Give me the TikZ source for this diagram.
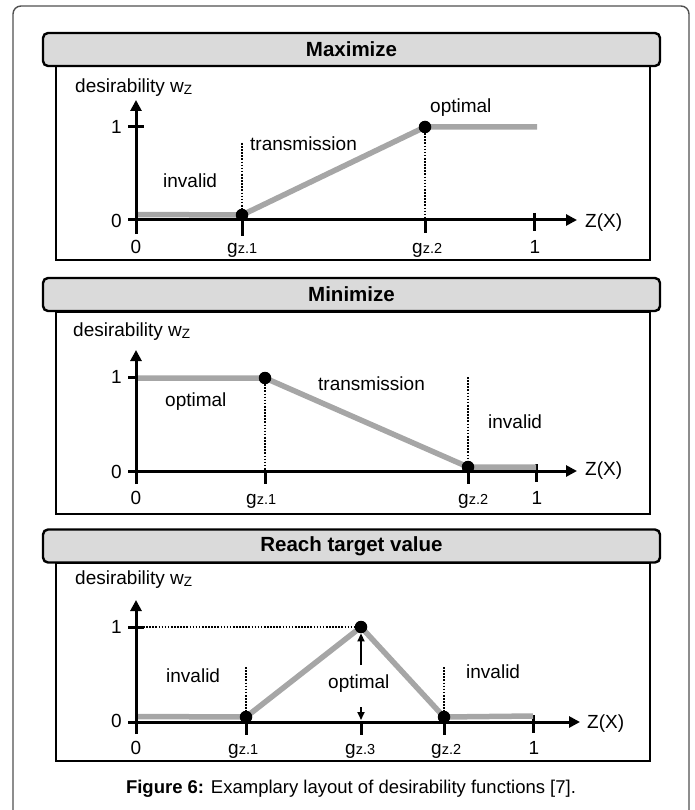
\documentclass[tikz,border=0pt]{standalone}
\usepackage{fontspec}
\setmainfont{Liberation Sans}
\usetikzlibrary{arrows.meta}
\definecolor{hdr}{RGB}{218,218,218}
\definecolor{crv}{RGB}{166,166,166}
\definecolor{frm}{RGB}{80,80,80}
\newcommand{\lbl}{\fontsize{19}{22}\selectfont}
\newcommand{\gz}[1]{g{\fontsize{14.5}{14}\selectfont z.#1}}
\newcommand{\wz}{w\raisebox{-2pt}{\fontsize{13.5}{13}\selectfont Z}}
\begin{document}
\begin{tikzpicture}[x=1pt,y=-1pt,
  hdrbox/.style={draw,line width=2.4pt,fill=hdr,rounded corners=5pt,minimum width=617pt,minimum height=33pt,inner sep=0pt,font=\fontsize{20.5}{24}\selectfont\bfseries},
  bodybox/.style={draw,line width=2.4pt},
  axarrow/.style={line width=3pt,-{Triangle[length=11pt,width=11pt]}},
  tickmark/.style={line width=3pt},
  curve/.style={line width=5.5pt,draw=crv},
  dotline/.style={line width=2.6pt,dash pattern=on 1.6pt off 1.5pt},
  pt/.style={circle,fill=black,inner sep=0pt,minimum size=12.5pt},
  txt/.style={font=\lbl,inner sep=0pt,anchor=base west},
  ylab/.style={font=\lbl,inner sep=0pt,anchor=east},
  thinarrow/.style={line width=1.8pt,-{Triangle[length=8pt,width=7pt]}}
]
\useasboundingbox (0,0) rectangle (695,810);
\draw[frm,line width=1.4pt,rounded corners=8pt] (13,6) rectangle (689,840);

% ---------------- Panel 1: Maximize ----------------
\draw[bodybox] (56,66) rectangle (650,260);
\node[hdrbox] (h1) at (351.5,49.5) {Maximize};
\node[txt] (d1) at (75,93) {desirability \wz};
\coordinate (yb1) at (136,234);
\coordinate (yt1) at (136,100);
\coordinate (xl1) at (128,220);
\coordinate (xr1) at (577,220);
\draw[tickmark] (128,127) -- (144,127);
\draw[tickmark] (242,220) -- (242,236);
\draw[tickmark] (425,220) -- (425,233);
\draw[tickmark] (534,213) -- (534,231);
\node[ylab] (l11) at (122,127) {1};
\node[ylab] (l10) at (122,221) {0};
\node[txt,anchor=base] (b10) at (136,253) {0};
\node[txt] (b1g1) at (227,253) {\gz{1}};
\node[txt] (b1g2) at (412,253) {\gz{2}};
\node[txt,anchor=base] (b11) at (535,253) {1};
\node[txt] (zx1) at (585,228) {Z(X)};
\node[txt] (inv1) at (163,188) {invalid};
\node[txt] (tr1) at (250,151) {transmission};
\node[txt] (op1) at (430,113) {optimal};
\coordinate (c1s) at (136,214.5);
\coordinate (q11) at (242,215);
\coordinate (q12) at (425,127);
\coordinate (c1e) at (537,127);
\coordinate (v11) at (242,143);
\coordinate (v12) at (425,220);
\draw[dotline] (v11) -- (q11);
\draw[dotline] (q12) -- (v12);
\draw[curve] (c1s) -- (q11) -- (q12) -- (c1e);
\draw[axarrow] (yb1) -- (yt1);
\draw[axarrow] (xl1) -- (xr1);
\node[pt] (p11) at (q11) {};
\node[pt] (p12) at (q12) {};

% ---------------- Panel 2: Minimize ----------------
\draw[bodybox] (56,312) rectangle (650,514);
\node[hdrbox] (h2) at (351.5,294.5) {Minimize};
\node[txt] (d2) at (73,336) {desirability \wz};
\coordinate (yb2) at (136,484);
\coordinate (yt2) at (136,350);
\coordinate (xl2) at (128,471);
\coordinate (xr2) at (577,471);
\draw[tickmark] (128,377) -- (144,377);
\draw[tickmark] (265,471) -- (265,484);
\draw[tickmark] (468,471) -- (468,484);
\draw[tickmark] (536,464) -- (536,482);
\node[ylab] (l21) at (122,377) {1};
\node[ylab] (l20) at (122,472) {0};
\node[txt,anchor=base] (b20) at (136,504) {0};
\node[txt] (b2g1) at (246,504) {\gz{1}};
\node[txt] (b2g2) at (458,504) {\gz{2}};
\node[txt,anchor=base] (b21) at (537,504) {1};
\node[txt] (zx2) at (585,475) {Z(X)};
\node[txt] (op2) at (165,406) {optimal};
\node[txt] (tr2) at (318,390) {transmission};
\node[txt] (inv2) at (488,428) {invalid};
\coordinate (c2s) at (136,378);
\coordinate (q21) at (265,378);
\coordinate (q22) at (468,467);
\coordinate (c2e) at (536,467);
\coordinate (v21) at (265,471);
\coordinate (v22) at (468,377);
\draw[dotline] (q21) -- (v21);
\draw[dotline] (v22) -- (q22);
\draw[curve] (c2s) -- (q21) -- (q22) -- (c2e);
\draw[axarrow] (yb2) -- (yt2);
\draw[axarrow] (xl2) -- (xr2);
\node[pt] (p21) at (q21) {};
\node[pt] (p22) at (q22) {};

% ---------------- Panel 3: Reach target value ----------------
\draw[bodybox] (56,563) rectangle (650,761);
\node[hdrbox] (h3) at (351.5,546) {Reach target value};
\node[txt] (d3) at (75,584) {desirability \wz};
\coordinate (yb3) at (136,734);
\coordinate (yt3) at (136,600);
\coordinate (xl3) at (128,722);
\coordinate (xr3) at (580,722);
\draw[tickmark] (128,627) -- (144,627);
\draw[tickmark] (246,722) -- (246,735);
\draw[tickmark] (361,722) -- (361,735);
\draw[tickmark] (444,722) -- (444,735);
\draw[tickmark] (533,715) -- (533,733);
\node[ylab] (l31) at (122,627) {1};
\node[ylab] (l30) at (122,721) {0};
\node[txt,anchor=base] (b30) at (136,754) {0};
\node[txt] (b3g1) at (228,754) {\gz{1}};
\node[txt] (b3g3) at (345,754) {\gz{3}};
\node[txt] (b3g2) at (431,754) {\gz{2}};
\node[txt,anchor=base] (b31) at (534,754) {1};
\node[txt] (zx3) at (587,728) {Z(X)};
\node[txt] (inv3a) at (166,682) {invalid};
\node[txt] (op3) at (328,688) {optimal};
\node[txt] (inv3b) at (466,678) {invalid};
\coordinate (c3s) at (136,716.5);
\coordinate (q31) at (246,717);
\coordinate (q32) at (361,627);
\coordinate (q33) at (444,717);
\coordinate (c3e) at (533,716);
\coordinate (h3s) at (143,627);
\coordinate (v31) at (246,667);
\coordinate (v33) at (444,667);
\draw[dotline] (h3s) -- (q32);
\draw[dotline] (v31) -- (q31);
\draw[dotline] (v33) -- (q33);
\draw[curve] (c3s) -- (q31) -- (q32) -- (q33) -- (c3e);
\draw[axarrow] (yb3) -- (yt3);
\draw[axarrow] (xl3) -- (xr3);
\node[pt] (p31) at (q31) {};
\node[pt] (p32) at (q32) {};
\node[pt] (p33) at (q33) {};
\coordinate (au) at (361,665);
\coordinate (ad) at (361,707);
\coordinate (adt) at (361,720);
\draw[thinarrow] (au) -- (p32.south);
\draw[thinarrow] (ad) -- (adt);

% caption
\node[font=\fontsize{18.5}{22}\selectfont,inner sep=0pt,anchor=base] (cap) at (351,793) {\textbf{Figure 6:} Examplary layout of desirability functions [7].};
\end{tikzpicture}
\end{document}
